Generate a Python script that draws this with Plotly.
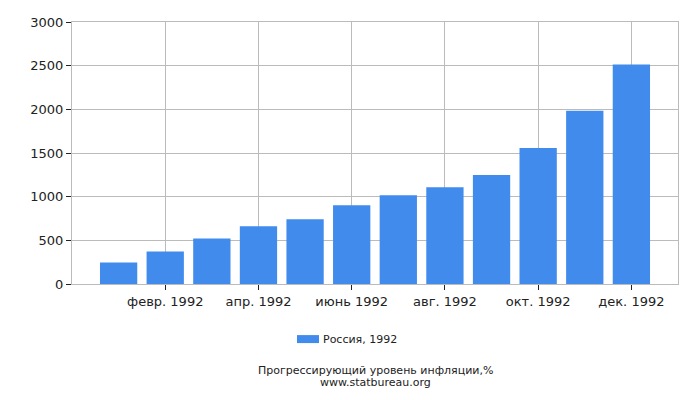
import plotly.graph_objects as go

months = ['янв. 1992', 'февр. 1992', 'март 1992', 'апр. 1992', 'май 1992', 'июнь 1992',
          'июль 1992', 'авг. 1992', 'сент. 1992', 'окт. 1992', 'нояб. 1992', 'дек. 1992']
inflation = [245, 372, 522, 660, 740, 901, 1016, 1109, 1247, 1557, 1983, 2512]
y_ticks = [0, 500, 1000, 1500, 2000, 2500, 3000]
series_name = 'Россия, 1992'

idx = list(range(len(months)))
shown = idx[1::2]
bar_color = '#418bed'

fig = go.Figure(go.Bar(
    x=idx, y=inflation, name=series_name,
    marker=dict(color=bar_color, line=dict(width=0)),
))

# page is offset by the 8px body margin, so margins are shifted to compensate
fig.update_layout(
    width=700, height=400,
    margin=dict(l=64, r=30, t=14, b=124),
    plot_bgcolor='white', paper_bgcolor='white',
    font=dict(family='DejaVu Sans', size=13, color='#222'),
    bargap=0.2,
    showlegend=False,
    xaxis=dict(range=[-1, 12], tickvals=shown, ticktext=[months[i] for i in shown],
               showgrid=True, gridcolor='#bbbbbb', gridwidth=1,
               ticks='outside', ticklen=5, tickcolor='#222', automargin=False,
               showline=True, linecolor='#bbbbbb', mirror=True, zeroline=False),
    yaxis=dict(range=[0, 3000], tickvals=y_ticks,
               showgrid=True, gridcolor='#bbbbbb', gridwidth=1,
               ticks='outside', ticklen=5, tickcolor='#222', automargin=False,
               showline=True, linecolor='#bbbbbb', mirror=True, zeroline=False),
    shapes=[
        dict(type='rect', xref='paper', yref='paper',
             x0=0.3713, x1=0.4076, y0=-0.195, y1=-0.2255,
             fillcolor=bar_color, line=dict(width=0)),
    ],
    annotations=[
        dict(text=series_name, x=0.4115, xref='paper', xanchor='left',
             y=-0.2137, yref='paper', yanchor='middle',
             showarrow=False, font=dict(size=11, color='#222')),
        dict(text='Прогрессирующий уровень инфляции,%',
             x=0.5, xref='paper', y=-0.330, yref='paper', yanchor='middle',
             showarrow=False, font=dict(size=11, color='#222')),
        dict(text='www.statbureau.org',
             x=0.5, xref='paper', y=-0.376, yref='paper', yanchor='middle',
             showarrow=False, font=dict(size=11, color='#222')),
    ],
)

fig.write_html("out.html")
